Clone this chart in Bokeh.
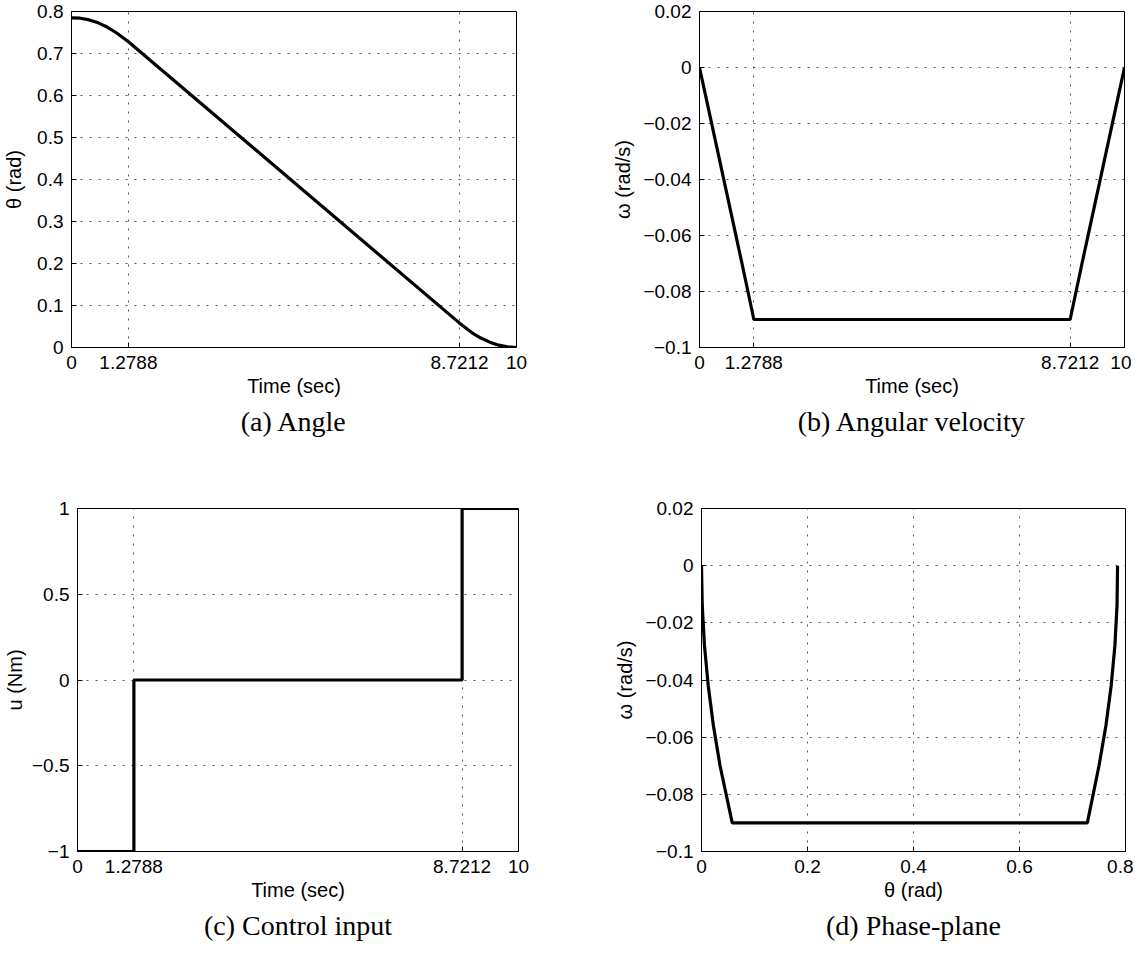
from bokeh.plotting import figure
from bokeh.layouts import column, row
from bokeh.models import FixedTicker, CustomJSTickFormatter, Title, Range1d
from bokeh.embed import file_html
from bokeh.resources import INLINE

# ---------------- data ----------------
time_s = [0, 0.2, 0.4, 0.6, 0.8, 1.0, 1.2788, 8.7212, 9.0, 9.2, 9.4, 9.6, 9.8, 10]
theta_rad = [0.785, 0.784, 0.780, 0.773, 0.763, 0.750, 0.728, 0.058, 0.035, 0.0225,
             0.0127, 0.0056, 0.0014, 0.0]
omega_rads = [0.0, -0.014, -0.028, -0.042, -0.056, -0.070, -0.090, -0.090, -0.070,
              -0.056, -0.042, -0.028, -0.014, 0.0]
time_u = [0, 1.2788, 1.2788, 8.7212, 8.7212, 10]
u_nm = [-1, -1, 0, 0, 1, 1]

time_ticks = [0, 1.2788, 8.7212, 10]
theta_ticks = [0, 0.1, 0.2, 0.3, 0.4, 0.5, 0.6, 0.7, 0.8]
omega_ticks = [-0.1, -0.08, -0.06, -0.04, -0.02, 0, 0.02]
u_ticks = [-1, -0.5, 0, 0.5, 1]
phase_x_ticks = [0, 0.2, 0.4, 0.6, 0.8]

captions = ["(a) Angle", "(b) Angular velocity", "(c) Control input", "(d) Phase-plane"]

FMT = CustomJSTickFormatter(code="""
let s = parseFloat(tick.toPrecision(6)).toString();
if (s === '-0') { s = '0'; }
return s.replace('-', '\u2212');
""")

SANS = "Liberation Sans"


def make_fig(xr, yr, xticks, yticks, xlabel, ylabel, caption,
             fw, fh, bl, br, bt, bb, ylab_standoff):
    p = figure(frame_width=fw, frame_height=fh,
               x_range=Range1d(*xr), y_range=Range1d(*yr),
               output_backend="svg", toolbar_location=None,
               min_border_left=bl, min_border_right=br,
               min_border_top=bt, min_border_bottom=bb,
               background_fill_color="white", border_fill_color="white")
    p.outline_line_color = "black"
    p.outline_line_width = 1
    p.outline_line_alpha = 1
    for ax, ticks, lab in ((p.xaxis[0], xticks, xlabel), (p.yaxis[0], yticks, ylabel)):
        ax.ticker = FixedTicker(ticks=ticks)
        ax.formatter = FMT
        ax.axis_label = lab
        ax.axis_label_text_font = SANS
        ax.axis_label_text_font_size = "20px"
        ax.axis_label_text_font_style = "normal"
        ax.axis_label_text_color = "black"
        ax.major_label_text_font = SANS
        ax.major_label_text_font_size = "19px"
        ax.major_label_text_color = "black"
        ax.major_label_standoff = 8
        ax.axis_line_color = "black"
        ax.major_tick_line_color = "black"
        ax.major_tick_in = 5
        ax.major_tick_out = 0
        ax.minor_tick_line_color = None
    p.xaxis[0].axis_label_standoff = 3
    p.yaxis[0].axis_label_standoff = ylab_standoff
    for g in (p.xgrid[0], p.ygrid[0]):
        g.grid_line_color = "#555555"
        g.grid_line_dash = "2 7"
        g.grid_line_width = 1
    p.xgrid[0].ticker = FixedTicker(ticks=xticks)
    p.ygrid[0].ticker = FixedTicker(ticks=yticks)
    cap = Title(text=caption, align="center", text_font="Liberation Serif",
                text_font_size="28px", text_font_style="normal",
                text_color="black", standoff=8)
    p.add_layout(cap, "below")
    return p


pa = make_fig((0, 10), (0, 0.8), time_ticks, theta_ticks, "Time (sec)", "θ (rad)",
              captions[0], 445, 336, 66, 93, 11, 150, 9)
pa.line(time_s, theta_rad, line_color="black", line_width=3.2)

pb = make_fig((0, 10), (-0.1, 0.02), time_ticks, omega_ticks, "Time (sec)", "ω (rad/s)",
              captions[1], 425, 336, 86, 7, 11, 150, 6)
pb.line(time_s, omega_rads, line_color="black", line_width=3.2)

pc = make_fig((0, 10), (-1, 1), time_ticks, u_ticks, "Time (sec)", "u (Nm)",
              captions[2], 441, 343, 70, 93, 11, 96, 3)
pc.line(time_u, u_nm, line_color="black", line_width=3.2)

pd = make_fig((0, 0.8), (-0.1, 0.02), phase_x_ticks, omega_ticks, "θ (rad)", "ω (rad/s)",
              captions[3], 424, 343, 86, 8, 11, 96, 6)
pd.line(theta_rad, omega_rads, line_color="black", line_width=3.2)

layout = column(row(pa, pb), row(pc, pd))
open("out.html", "w").write(file_html(layout, INLINE))
